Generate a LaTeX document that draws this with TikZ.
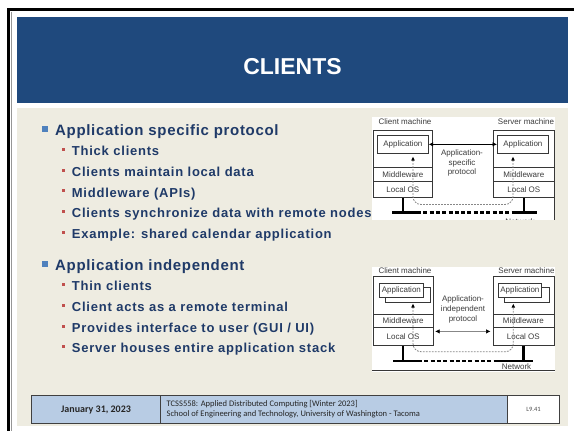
\documentclass[tikz,border=0pt]{standalone}
\usepackage{fontspec}
\usetikzlibrary{arrows.meta}
\setmainfont{Liberation Sans}
\newfontfamily\slidefont{Liberation Sans}[LetterSpace=4.5]
\newfontfamily\subfont{Liberation Sans}[LetterSpace=6]
\newfontfamily\footfont{Carlito}
\newfontfamily\figfont{Liberation Sans}

\definecolor{hdrblue}{RGB}{31,73,125}
\definecolor{paper}{RGB}{238,236,225}
\definecolor{navy}{RGB}{31,58,104}
\definecolor{bulletblue}{RGB}{79,129,189}
\definecolor{bulletred}{RGB}{192,80,77}
\definecolor{footblue}{RGB}{184,204,228}
\definecolor{footline}{RGB}{64,64,64}
\definecolor{figline}{RGB}{55,55,55}
\definecolor{figtext}{RGB}{60,60,60}
\definecolor{figdash}{RGB}{135,135,135}
\definecolor{frameline}{RGB}{150,150,150}

\tikzset{
  mainitem/.style={anchor=base west, inner sep=0, text=navy,
    font=\slidefont\bfseries\fontsize{15}{18}\selectfont},
  subitem/.style={anchor=base west, inner sep=0, text=navy,
    font=\subfont\bfseries\fontsize{13}{16}\selectfont},
  mach/.style={draw=figline, line width=0.7pt, fill=white, anchor=north west,
    inner sep=0, text=figtext, font=\figfont\fontsize{8}{10}\selectfont},
  figlbl/.style={inner sep=0, text=figtext, align=center,
    font=\figfont\fontsize{8}{9.8}\selectfont},
  protoarrow/.style={draw=black, line width=0.7pt,
    {Latex[length=4.5pt,width=4.5pt]}-{Latex[length=4.5pt,width=4.5pt]}},
  protoarrowthin/.style={draw=figdash, line width=0.6pt,
    {Latex[length=4.5pt,width=4.5pt,color=black]}-{Latex[length=4.5pt,width=4.5pt,color=black]}},
  dashlink/.style={draw=figdash, line width=0.8pt, dash pattern=on 1.8pt off 1.2pt,
    rounded corners=8pt,
    {Latex[length=4pt,width=3.8pt,color=black]}-{Latex[length=4pt,width=3.8pt,color=black]}},
  netsolid/.style={draw=black, line width=2.5pt},
  netdash/.style={draw=black, line width=2.3pt, dash pattern=on 4pt off 2.3pt},
  footcell/.style={draw=footline, line width=1.1pt, anchor=north west,
    minimum height=28pt, inner sep=0}
}

\begin{document}
\begin{tikzpicture}[x=1pt,y=-1pt]
\useasboundingbox (0,0) rectangle (574,431);
% page and frame
\fill[white] (0,0) rectangle (574,431);
\fill[paper] (16.7,108) rectangle (568,426);
\fill[black] (7,8) rectangle (574,11);
\fill[black] (7,8) rectangle (10.3,431);
\draw[frameline, line width=0.8pt] (11,11.5) -- (11,431);

% title bar
\node[fill=hdrblue, anchor=north west, inner sep=0,
      minimum width=551pt, minimum height=85.5pt] (hdr) at (17,17) {};
\node[anchor=base, inner sep=0, text=white,
      font=\bfseries\fontsize{23}{26}\selectfont] (title) at (292.5,74.5) {CLIENTS};

% first list
\fill[bulletblue] (41.7,126) rectangle ++(5.8,5.8);
\node[mainitem] (m1) at (55,135.7) {Application specific protocol};
\foreach \b in {155.7,176.35,197,217.65,238.3}
  \fill[bulletred] (61.8,\b-7.6) rectangle ++(3,3);
\node[subitem] (s11) at (71.7,155.7) {Thick clients};
\node[subitem] (s12) at (71.7,176.35) {Clients maintain local data};
\node[subitem] (s13) at (71.7,197) {Middleware (APIs)};
\node[subitem] (s14) at (71.7,217.65) {Clients synchronize data with remote nodes};
\node[subitem] (s15) at (71.7,238.3) {Example: shared calendar application};

% second list
\fill[bulletblue] (41.7,261.3) rectangle ++(5.8,5.8);
\node[mainitem] (m2) at (55,270.7) {Application independent};
\foreach \b in {290.7,311.4,332.1,352.8}
  \fill[bulletred] (61.8,\b-7.6) rectangle ++(3,3);
\node[subitem] (s21) at (71.7,290.7) {Thin clients};
\node[subitem] (s22) at (71.7,311.4) {Client acts as a remote terminal};
\node[subitem] (s23) at (71.7,332.1) {Provides interface to user (GUI / UI)};
\node[subitem] (s24) at (71.7,352.8) {Server houses entire application stack};

% ---------- upper figure: application-specific protocol ----------
\begin{scope}
\clip (372,117) rectangle (555,219.5);
\fill[white] (372,117) rectangle (555,219.5);
\node[figlbl] (cm1) at (405,121.5) {Client machine};
\node[figlbl] (sm1) at (526,121.5) {Server machine};

\node[mach, minimum width=59pt, minimum height=36.7pt] (c1top) at (373,130) {};
\node[mach, minimum width=59pt, minimum height=14.3pt] (c1mw) at (373,166.7) {Middleware};
\node[mach, minimum width=59pt, minimum height=16.3pt] (c1os) at (373,181) {Local OS};
\node[mach, minimum width=51pt, minimum height=18pt] (c1app) at (377,135) {Application};

\node[mach, minimum width=61pt, minimum height=36.7pt] (s1top) at (493,130) {};
\node[mach, minimum width=61pt, minimum height=14.3pt] (s1mw) at (493,166.7) {Middleware};
\node[mach, minimum width=61pt, minimum height=16.3pt] (s1os) at (493,181) {Local OS};
\node[mach, minimum width=51pt, minimum height=18pt] (s1app) at (497,135) {Application};
\draw[figline, line width=0.7pt] (s1os.south east) -- ++(0,25);

\draw[protoarrow] (c1app.east) -- (s1app.west);
\node[figlbl] (p1) at (462,163) {Application-\\specific\\protocol};

\coordinate (c1tip) at (413,156.5);
\coordinate (s1tip) at (513,156.5);
\coordinate (d1low) at (0,204.5);
\draw[dashlink] (c1tip) -- (c1tip |- d1low) -- (s1tip |- d1low) -- (s1tip);

\coordinate (n1l) at (392,212.5);
\coordinate (n1m) at (417,212.5);
\coordinate (n1n) at (512,212.5);
\coordinate (n1r) at (537,212.5);
\draw[netsolid] (c1os.south) -- (c1os.south |- n1l);
\draw[netsolid] (s1os.south) -- (s1os.south |- n1l);
\draw[netsolid] (n1l) -- (n1m);
\draw[netdash] (n1m) -- (n1n);
\draw[netsolid] (n1n) -- (n1r);
\node[figlbl] (net1) at (520,221.5) {Network};
\end{scope}

% ---------- lower figure: application-independent protocol ----------
\begin{scope}
\clip (372,266.5) rectangle (555,371.5);
\fill[white] (372,266.5) rectangle (555,371.5);
\node[figlbl] (cm2) at (405,270.5) {Client machine};
\node[figlbl] (sm2) at (526.5,270.5) {Server machine};

\node[mach, minimum width=59.5pt, minimum height=38.8pt] (c2top) at (373,275.5) {};
\node[mach, minimum width=59.5pt, minimum height=12.4pt] (c2mw) at (373,314.3) {Middleware};
\node[mach, minimum width=59.5pt, minimum height=18.3pt] (c2os) at (373,326.7) {Local OS};
\node[mach, minimum width=45pt, minimum height=15pt] (c2appb) at (385,286.7) {};
\node[mach, minimum width=44pt, minimum height=14pt] (c2app) at (379,283) {Application};

\node[mach, minimum width=61pt, minimum height=38.8pt] (s2top) at (492.5,275.5) {};
\node[mach, minimum width=61pt, minimum height=12.4pt] (s2mw) at (492.5,314.3) {Middleware};
\node[mach, minimum width=61pt, minimum height=18.3pt] (s2os) at (492.5,326.7) {Local OS};
\node[mach, minimum width=45pt, minimum height=15pt] (s2appb) at (504,286.7) {};
\node[mach, minimum width=43pt, minimum height=14pt] (s2app) at (498,283) {Application};

\draw[protoarrowthin, shorten <=2pt, shorten >=2pt]
  ([yshift=4.8pt]c2os.east) -- ([yshift=4.8pt]s2os.west);
\node[figlbl] (p2) at (463,309.5) {Application-\\independent\\protocol};

\coordinate (c2tip) at (413,303.5);
\coordinate (s2tip) at (513.3,303.5);
\coordinate (d2low) at (0,351.7);
\draw[dashlink] (c2tip) -- (c2tip |- d2low) -- (s2tip |- d2low) -- (s2tip);

\coordinate (n2l) at (393,361);
\coordinate (n2m) at (418,361);
\coordinate (n2n) at (497,361);
\coordinate (n2r) at (533,361);
\draw[netsolid] (c2os.south) -- (c2os.south |- n2l);
\draw[netsolid] (s2os.south) -- (s2os.south |- n2l);
\draw[netsolid] (n2l) -- (n2m);
\draw[netdash] (n2m) -- (n2n);
\draw[netsolid] (n2n) -- (n2r);
\node[figlbl] (net2) at (516.5,367) {Network};
\draw[figline, line width=0.8pt] (372,370.6) -- (555,370.6);
\end{scope}

% footer
\node[footcell, fill=footblue, minimum width=129pt] (fdate) at (31,395) {};
\node[footcell, fill=footblue, minimum width=347pt] (fcourse) at (160,395) {};
\node[footcell, fill=white, minimum width=52pt] (fpage) at (507,395) {};
\node[inner sep=0, text=black!85, font=\footfont\bfseries\fontsize{10}{12}\selectfont]
  (fdatetxt) at (fdate.center) {January 31, 2023};
\node[anchor=west, inner sep=0, align=left, text=black!85,
      font=\footfont\fontsize{8.5}{10}\selectfont] (fcoursetxt) at (166.5,409.5)
  {TCSS558: Applied Distributed Computing [Winter 2023]\\
   School of Engineering and Technology, University of Washington - Tacoma};
\node[inner sep=0, text=black!70, font=\footfont\fontsize{6.5}{8}\selectfont]
  (fpagetxt) at (fpage.center) {L9.41};
\end{tikzpicture}
\end{document}
